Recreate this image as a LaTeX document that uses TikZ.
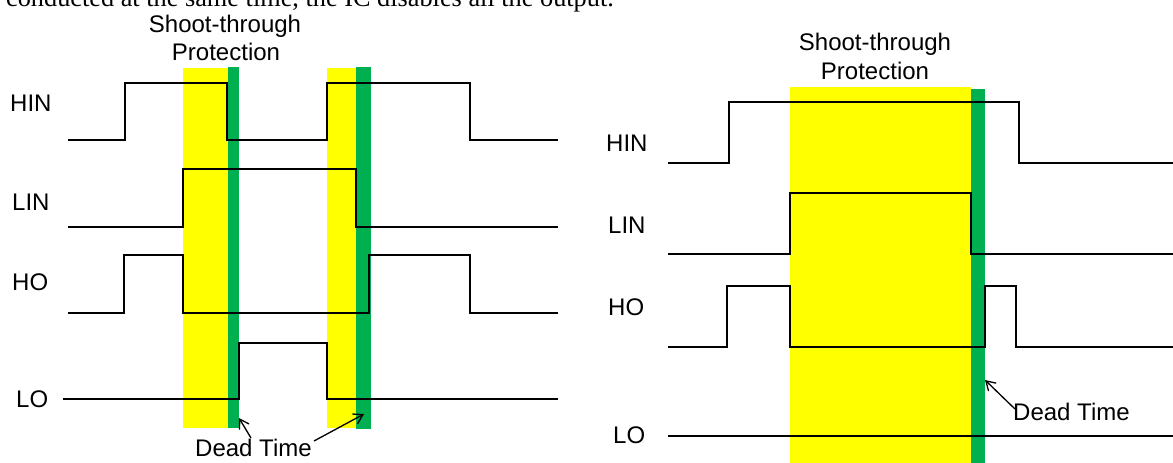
\documentclass[tikz,border=0pt]{standalone}
\usepackage{fontspec}
\setmainfont{Liberation Sans}
\newfontfamily\serifx{Liberation Serif}
\usetikzlibrary{arrows.meta}
\definecolor{stgreen}{RGB}{0,176,80}
\definecolor{styellow}{RGB}{255,255,0}
\begin{document}
\begin{tikzpicture}[x=1pt,y=-1pt,
  sig/.style={line width=2.6pt, line join=miter},
  lbl/.style={font=\fontsize{24}{29}\selectfont, inner sep=0pt, anchor=base west},
  ttl/.style={font=\fontsize{24}{29}\selectfont, inner sep=0pt, anchor=base},
  yband/.style={fill=styellow},
  gband/.style={fill=stgreen},
  dtarrow/.style={line width=1.3pt, -{Straight Barb[length=9pt,width=11pt]}}]
\useasboundingbox (0,0) rectangle (1173,463);
\clip (0,0) rectangle (1173,463);
% clipped line of text above the figure
\node[font=\serifx\fontsize{26.3}{30}\selectfont, inner sep=0pt, anchor=base east] (intro) at (614,6) {conducted at the same time, the IC disables all the output.};
% ---------- left diagram ----------
\fill[yband] (183,68) rectangle (228,428);
\fill[gband] (228,67) rectangle (239,428);
\fill[yband] (327,68) rectangle (356,428);
\fill[gband] (356,67) rectangle (371,429);
\node[ttl] (st1a) at (225,32) {Shoot-through};
\node[ttl] (st1b) at (226,60) {Protection};
\node[lbl] (hin1) at (10,111) {HIN};
\node[lbl] (lin1) at (12,210) {LIN};
\node[lbl] (ho1) at (12,290) {HO};
\node[lbl] (lo1) at (16,407) {LO};
\draw[sig] (68,140) -- (125,140) -- (125,83) -- (227,83) -- (227,140) -- (327,140) -- (327,83) -- (470,83) -- (470,140) -- (558,140);
\draw[sig] (68,227) -- (183,227) -- (183,169) -- (356,169) -- (356,227) -- (558,227);
\draw[sig] (68,313) -- (124,313) -- (124,255) -- (183,255) -- (183,313) -- (369,313) -- (369,255) -- (470,255) -- (470,313) -- (558,313);
\draw[sig] (63,399) -- (239,399) -- (239,343) -- (327,343) -- (327,399) -- (558,399);
\node[lbl] (dt1) at (195,456) {Dead Time};
\coordinate (t1a) at (251,438);
\coordinate (h1a) at (239,418);
\coordinate (t1b) at (314,441);
\coordinate (h1b) at (364,414);
\draw[dtarrow] (t1a) -- (h1a);
\draw[dtarrow] (t1b) -- (h1b);
% ---------- right diagram ----------
\fill[yband] (790,87) rectangle (971,463);
\fill[gband] (971,89) rectangle (985,463);
\node[ttl] (st2a) at (875,50) {Shoot-through};
\node[ttl] (st2b) at (875,79) {Protection};
\node[lbl] (hin2) at (606,151) {HIN};
\node[lbl] (lin2) at (608,233) {LIN};
\node[lbl] (ho2) at (608,315) {HO};
\node[lbl] (lo2) at (613,443) {LO};
\draw[sig] (668,163) -- (729,163) -- (729,102) -- (1019,102) -- (1019,163) -- (1173,163);
\draw[sig] (668,254) -- (790,254) -- (790,193) -- (971,193) -- (971,254) -- (1173,254);
\draw[sig] (668,347) -- (727,347) -- (727,286) -- (790,286) -- (790,347) -- (985,347) -- (985,286) -- (1016,286) -- (1016,347) -- (1173,347);
\draw[sig] (668,436) -- (1173,436);
\node[lbl] (dt2) at (1013,420) {Dead Time};
\coordinate (t2) at (1015,409);
\coordinate (h2) at (985,380);
\draw[dtarrow] (t2) -- (h2);
\end{tikzpicture}
\end{document}
